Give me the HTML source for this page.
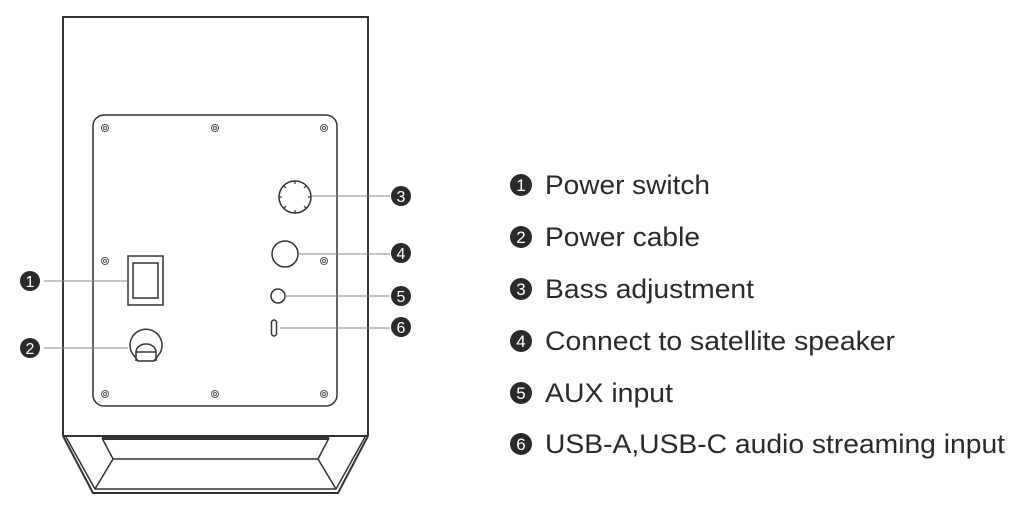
<!DOCTYPE html>
<html><head><style>html,body{margin:0;padding:0;background:#fff;}</style></head>
<body>
<svg width="1024" height="512" viewBox="0 0 1024 512" xmlns="http://www.w3.org/2000/svg" font-family="Liberation Sans, Arial, sans-serif">
<g fill="none" stroke="#333" stroke-width="1.5">
  <path d="M63,436 V17 H368 V436" stroke-width="2"/>
  <rect x="93" y="115" width="244" height="291" rx="11" ry="11"/>
  <line x1="63" y1="436" x2="368" y2="436" stroke-width="2"/>
  <line x1="102" y1="438.5" x2="329" y2="438.5" stroke-width="3"/>
  <path d="M102,438 L113,459 H318 L329,438"/>
  <path d="M63,436 L93,493 H338 L368,436" stroke-width="2"/>
  <path d="M66,437 L95,489 H336 L365,437"/>
  <line x1="113" y1="459" x2="95" y2="489"/>
  <line x1="318" y1="459" x2="336" y2="489"/>
  <rect x="128" y="256" width="35" height="49"/>
  <rect x="133" y="263" width="25" height="35"/>
  <path d="M132,353 A16,16 0 1 1 160,353 L154,361 H138 Z"/>
  <path d="M136,352 A10,8 0 0 1 156,352 V361 M136,352 V361"/>
  <line x1="136" y1="352" x2="156" y2="352"/>
  <circle cx="295" cy="197" r="16"/>
  <circle cx="285" cy="254" r="13"/>
  <circle cx="278" cy="296" r="7"/>
  <rect x="271.5" y="320" width="5" height="16" rx="2.5"/>
  <g stroke="#888" stroke-width="1">
    <line x1="44" y1="281" x2="127" y2="281"/>
    <line x1="44" y1="348" x2="128" y2="348"/>
    <line x1="312" y1="196" x2="390" y2="196"/>
    <line x1="299" y1="254" x2="390" y2="254"/>
    <line x1="285" y1="296" x2="390" y2="296"/>
    <line x1="280" y1="328" x2="390" y2="328"/>
  </g>
</g>
<g stroke="#333" stroke-width="1.2">
  <line x1="295" y1="181" x2="295" y2="184"/><line x1="295" y1="213" x2="295" y2="210"/>
  <line x1="279" y1="197" x2="282" y2="197"/><line x1="311" y1="197" x2="308" y2="197"/>
  <line x1="284" y1="186" x2="286" y2="188"/><line x1="306" y1="186" x2="304" y2="188"/>
  <line x1="284" y1="208" x2="286" y2="206"/><line x1="306" y1="208" x2="304" y2="206"/>
</g>
<g fill="none" stroke="#555" stroke-width="1">
  <circle cx="105" cy="128" r="3.5"/><circle cx="105" cy="128" r="1.5"/>
  <circle cx="215" cy="128" r="3.5"/><circle cx="215" cy="128" r="1.5"/>
  <circle cx="324" cy="128" r="3.5"/><circle cx="324" cy="128" r="1.5"/>
  <circle cx="105" cy="261" r="3.5"/><circle cx="105" cy="261" r="1.5"/>
  <circle cx="324" cy="261" r="3.5"/><circle cx="324" cy="261" r="1.5"/>
  <circle cx="105" cy="394" r="3.5"/><circle cx="105" cy="394" r="1.5"/>
  <circle cx="215" cy="394" r="3.5"/><circle cx="215" cy="394" r="1.5"/>
  <circle cx="324" cy="394" r="3.5"/><circle cx="324" cy="394" r="1.5"/>
</g>
<g font-size="16" text-anchor="middle">
  <circle cx="30" cy="281" r="10" fill="#2a2a2a"/><text x="30" y="287" fill="#fff">1</text>
  <circle cx="30" cy="348" r="10" fill="#2a2a2a"/><text x="30" y="354" fill="#fff">2</text>
  <circle cx="401" cy="196" r="10" fill="#2a2a2a"/><text x="401" y="202" fill="#fff">3</text>
  <circle cx="401" cy="253" r="10" fill="#2a2a2a"/><text x="401" y="259" fill="#fff">4</text>
  <circle cx="401" cy="296" r="10" fill="#2a2a2a"/><text x="401" y="302" fill="#fff">5</text>
  <circle cx="401" cy="327" r="10" fill="#2a2a2a"/><text x="401" y="333" fill="#fff">6</text>
</g>
<g font-size="17" text-anchor="middle">
  <circle cx="521" cy="185" r="11" fill="#2a2a2a"/><text x="521" y="191" fill="#fff">1</text>
  <circle cx="521" cy="237" r="11" fill="#2a2a2a"/><text x="521" y="243" fill="#fff">2</text>
  <circle cx="521" cy="289" r="11" fill="#2a2a2a"/><text x="521" y="295" fill="#fff">3</text>
  <circle cx="521" cy="341" r="11" fill="#2a2a2a"/><text x="521" y="347" fill="#fff">4</text>
  <circle cx="521" cy="393" r="11" fill="#2a2a2a"/><text x="521" y="399" fill="#fff">5</text>
  <circle cx="521" cy="444" r="11" fill="#2a2a2a"/><text x="521" y="450" fill="#fff">6</text>
</g>
<g font-size="27" fill="#2a2a2a">
  <text x="545" y="194" textLength="165" lengthAdjust="spacingAndGlyphs">Power switch</text>
  <text x="545" y="246" textLength="155" lengthAdjust="spacingAndGlyphs">Power cable</text>
  <text x="545" y="298" textLength="209" lengthAdjust="spacingAndGlyphs">Bass adjustment</text>
  <text x="545" y="350" textLength="350" lengthAdjust="spacingAndGlyphs">Connect to satellite speaker</text>
  <text x="545" y="402" textLength="128" lengthAdjust="spacingAndGlyphs">AUX input</text>
  <text x="545" y="453" textLength="460" lengthAdjust="spacingAndGlyphs">USB-A,USB-C audio streaming input</text>
</g>
</svg>
</body></html>
